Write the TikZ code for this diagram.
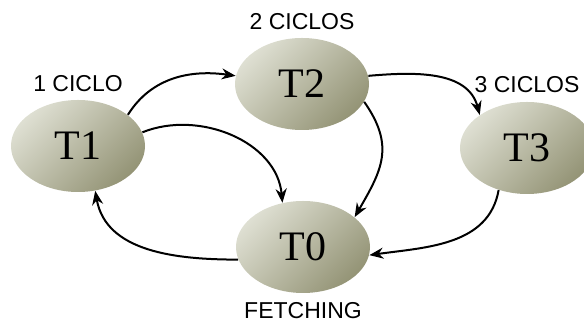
\documentclass[tikz,border=0pt]{standalone}
\usepackage{fontspec}
\setmainfont{Liberation Serif}
\newfontfamily\labelfont{Liberation Sans}
\usetikzlibrary{shapes.geometric,arrows.meta}
\definecolor{statelight}{RGB}{222,223,210}
\definecolor{statedark}{RGB}{148,148,118}

\begin{document}
\begin{tikzpicture}[x=0.5pt, y=-0.5pt,
    state/.style={ellipse, minimum width=67pt, minimum height=46pt, inner sep=0pt,
        shading=axis, left color=statelight, right color=statedark, shading angle=45,
        font=\fontsize{21}{21}\selectfont},
    cycles/.style={font=\labelfont\fontsize{11.5}{12}\selectfont},
    flow/.style={line width=1pt, -{Stealth[length=7pt, width=5.5pt]}}]
    \useasboundingbox (0,0) rectangle (584,324);
    \node[state] (t1) at (78,146) {T1};
    \node[state] (t2) at (302,84) {T2};
    \node[state] (t3) at (527,148) {T3};
    \node[state] (t0) at (303,247) {T0};
    \node[cycles] (c1) at (78,84) {1 CICLO};
    \node[cycles] (c2) at (302,22) {2 CICLOS};
    \node[cycles] (c3) at (527,85) {3 CICLOS};
    \node[cycles] (fetch) at (303,311) {FETCHING};
    \draw[flow] (t1.32) to[out=58, in=172] (t2.173);
    \draw[flow] (t1.12) to[out=22, in=95] (t0.115);
    \draw[flow] (t2.7) to[out=5, in=105] (t3.145);
    \draw[flow] (t2.-16) to[out=-55, in=60, looseness=1.2] (t0.30);
    \draw[flow] (t3.236) to[out=-100, in=8] (t0.-7);
    \draw[flow] (t0.191) to[out=180, in=-80] (t1.291);
\end{tikzpicture}
\end{document}
